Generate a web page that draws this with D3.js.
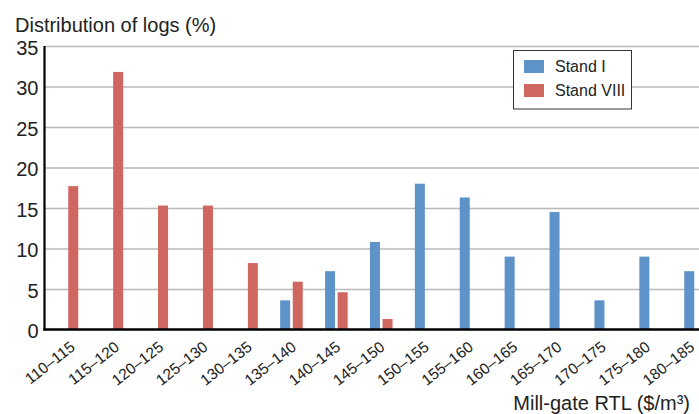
<!DOCTYPE html>
<html>
<head>
<meta charset="utf-8">
<script src="https://cdn.jsdelivr.net/npm/d3@7"></script>
<style>
  html, body { margin: 0; padding: 0; background: #fff; }
  svg { display: block; font-family: "Liberation Sans", Arial, sans-serif; }
</style>
</head>
<body>
<svg id="chart" width="699" height="414"></svg>
<script>
const categories = ["110–115","115–120","120–125","125–130","130–135","135–140","140–145","145–150","150–155","155–160","160–165","165–170","170–175","175–180","180–185"];
const standI    = [0, 0, 0, 0, 0, 3.6, 7.2, 10.8, 18.0, 16.3, 9.0, 14.5, 3.6, 9.0, 7.2];
const standVIII = [17.7, 31.8, 15.3, 15.3, 8.2, 5.9, 4.6, 1.3, 0, 0, 0, 0, 0, 0, 0];
const seriesNames = ["Stand I", "Stand VIII"];
const seriesColors = ["#5e93c9", "#cf665f"];
const yTicks = [0, 5, 10, 15, 20, 25, 30, 35];
const yTitle = "Distribution of logs (%)";
const xTitle = "Mill-gate RTL ($/m³)";

(function () {
const svg = d3.select("#chart");
const W = 699;
const mLeft = 44.5, mBottom = 329.5, mTop = 46, bandEnd = 718;

const x = d3.scaleBand().domain(categories).range([mLeft, bandEnd]);
const x1 = d3.scaleBand().domain(seriesNames).range([11.15, 33.75]).paddingInner(0.206);
const xLab = d3.scalePoint().domain(categories).range([75.5, 695]);
const y = d3.scaleLinear().domain([0, 35]).range([mBottom, mTop]);

// gridlines
const grid = svg.append("g")
  .attr("transform", `translate(${mLeft},0)`)
  .call(d3.axisLeft(y).tickValues(yTicks.filter(d => d > 0)).tickSize(-(W - mLeft)).tickFormat(""));
grid.select(".domain").remove();
grid.selectAll(".tick line").attr("stroke", "#b9b9b9").attr("stroke-width", 1.4);

// bars
const rows = categories.map((c, i) => ({ cat: c, values: [standI[i], standVIII[i]] }));
const groups = svg.append("g").selectAll("g").data(rows).join("g")
  .attr("transform", d => `translate(${x(d.cat)},0)`);
groups.selectAll("rect")
  .data(d => d.values.map((v, k) => ({ v, k })).filter(e => e.v > 0))
  .join("rect")
  .attr("x", e => x1(seriesNames[e.k]))
  .attr("width", x1.bandwidth())
  .attr("y", e => y(e.v))
  .attr("height", e => mBottom - y(e.v))
  .attr("fill", e => seriesColors[e.k]);

// y axis labels
const yAxis = svg.append("g")
  .attr("transform", `translate(${mLeft},0)`)
  .call(d3.axisLeft(y).tickValues(yTicks).tickSize(0).tickPadding(6).tickFormat(d3.format("d")));
yAxis.select(".domain").remove();
yAxis.selectAll(".tick text")
  .attr("font-family", "Liberation Sans, Arial, sans-serif")
  .attr("font-size", 20).attr("fill", "#222").attr("dy", "0.4em");

// axis lines
svg.append("line").attr("x1", mLeft).attr("x2", mLeft).attr("y1", mTop).attr("y2", mBottom + 1)
  .attr("stroke", "#000").attr("stroke-width", 2.2);
svg.append("line").attr("x1", mLeft - 1).attr("x2", W).attr("y1", mBottom).attr("y2", mBottom)
  .attr("stroke", "#000").attr("stroke-width", 2.4);

// x axis labels
const xAxis = svg.append("g")
  .attr("transform", `translate(0,${mBottom})`)
  .call(d3.axisBottom(xLab).tickSize(0).tickFormat(d => d));
xAxis.select(".domain").remove();
xAxis.selectAll(".tick text")
  .attr("font-family", "Liberation Sans, Arial, sans-serif")
  .attr("font-size", 15.5).attr("fill", "#222")
  .attr("text-anchor", "end")
  .attr("dy", null).attr("y", null)
  .attr("transform", "translate(0,19.5) rotate(-38)");

// titles
svg.append("text").attr("x", 15).attr("y", 31.5)
  .attr("font-size", 20).attr("fill", "#222").text(yTitle);
svg.append("text").attr("x", 690).attr("y", 410).attr("text-anchor", "end")
  .attr("font-size", 20).attr("fill", "#222").text(xTitle);

// legend
const lg = svg.append("g");
lg.append("rect").attr("x", 513.5).attr("y", 50.5).attr("width", 118).attr("height", 58.5)
  .attr("fill", "#fff").attr("stroke", "#333").attr("stroke-width", 1);
seriesNames.forEach((s, i) => {
  lg.append("rect").attr("x", 524).attr("y", 60 + i * 24).attr("width", 20).attr("height", 13)
    .attr("fill", seriesColors[i]);
  lg.append("text").attr("x", 555).attr("y", 71.5 + i * 24)
    .attr("font-size", 16).attr("fill", "#222").text(s);
});
})();
</script>
</body>
</html>
